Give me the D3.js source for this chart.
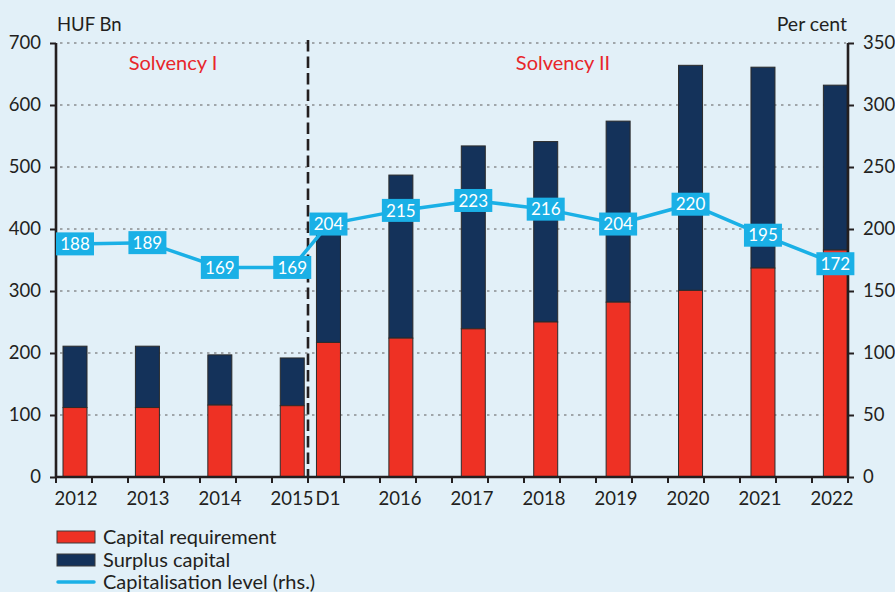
<!DOCTYPE html>
<html>
<head>
<meta charset="utf-8">
<script src="https://cdn.jsdelivr.net/npm/d3@7"></script>
<style>
  html, body { margin: 0; padding: 0; background: #e2f0f8; }
  svg { display: block; font-family: Lato, "Open Sans", sans-serif; }
</style>
</head>
<body>
<svg id="chart" width="895" height="592"></svg>
<script>
// ---- Data ----
const categories = ["2012", "2013", "2014", "2015", "2015 D1", "2016", "2017", "2018", "2019", "2020", "2021", "2022"];
const tickLabels = ["2012", "2013", "2014", "2015", "D1", "2016", "2017", "2018", "2019", "2020", "2021", "2022"];
const capitalRequirement = [112, 112, 116, 115, 217, 224, 239, 250, 282, 301, 337, 366];
const surplusCapital = [99, 99, 81, 77, 188, 263, 295, 291, 292, 363, 324, 266];
const capitalisationLevel = [188, 189, 169, 169, 204, 215, 223, 216, 204, 220, 195, 172];
const leftTicks = [0, 100, 200, 300, 400, 500, 600, 700];
const rightTicks = [0, 50, 100, 150, 200, 250, 300, 350];
const seriesNames = ["Capital requirement", "Surplus capital", "Capitalisation level (rhs.)"];
const regimeLabels = ["Solvency I", "Solvency II"];

// ---- Layout ----
const W = 895, H = 592;
const pL = 56, pR = 848, pT = 43, pB = 477;
const colors = { req: "#ee3124", surplus: "#14325a", line: "#1ab0e6", axis: "#231f20", grid: "#8a8d90", red: "#e8262b", text: "#231f20" };

// slots: a spacer before every category except the first and the "D1" one
const slots = [];
categories.forEach((c, i) => {
  if (i > 0 && c !== "2015 D1") slots.push("gap" + i);
  slots.push(c);
});

const svg = d3.select("#chart");
svg.append("rect").attr("width", W).attr("height", H).attr("fill", "#e2f0f8");

const x = d3.scaleBand().domain(slots).range([pL, pR]).paddingInner(0).paddingOuter(0);
const xBar = d3.scaleBand().domain(slots).range([pL + 7, pR]).paddingInner(0.32).paddingOuter(0).align(0);
const yL = d3.scaleLinear().domain([0, 700]).range([pB, pT]);
const yR = d3.scaleLinear().domain([0, 350]).range([pB, pT]);
const barW = 24;
const bx = c => xBar(c);
const bc = c => xBar(c) + barW / 2;

// gridlines
svg.append("g").selectAll("line").data(leftTicks.filter(d => d > 0)).join("line")
  .attr("x1", pL + 4).attr("x2", pR - 2)
  .attr("y1", d => yL(d)).attr("y2", d => yL(d))
  .attr("stroke", colors.grid).attr("stroke-width", 1.6).attr("stroke-dasharray", "2.5 4.5");

// bars
const data = categories.map((c, i) => ({ c, req: capitalRequirement[i], sur: surplusCapital[i] }));
const gb = svg.append("g");
gb.selectAll("rect.sur").data(data).join("rect").attr("class", "sur")
  .attr("x", d => bx(d.c)).attr("width", barW)
  .attr("y", d => yL(d.req + d.sur)).attr("height", d => yL(d.req) - yL(d.req + d.sur))
  .attr("fill", colors.surplus).attr("stroke", "#2b2b2b").attr("stroke-width", 1);
gb.selectAll("rect.req").data(data).join("rect").attr("class", "req")
  .attr("x", d => bx(d.c)).attr("width", barW)
  .attr("y", d => yL(d.req)).attr("height", d => yL(0) - yL(d.req))
  .attr("fill", colors.req).attr("stroke", "#2b2b2b").attr("stroke-width", 1);

// dashed separator between 2015 and 2015 D1
const sepX = x("2015 D1");
svg.append("line").attr("x1", sepX).attr("x2", sepX).attr("y1", pT - 3).attr("y2", pB)
  .attr("stroke", colors.axis).attr("stroke-width", 2.6).attr("stroke-dasharray", "11.5 5");

// regime labels
svg.append("text").attr("x", x("gap2") + 9).attr("y", 70)
  .attr("text-anchor", "middle").attr("fill", colors.red).attr("font-size", 20).text(regimeLabels[0]);
svg.append("text").attr("x", x("gap8") + 3).attr("y", 70)
  .attr("text-anchor", "middle").attr("fill", colors.red).attr("font-size", 20).text(regimeLabels[1]);

// axes
const axL = svg.append("g").attr("transform", `translate(${pL},0)`)
  .call(d3.axisLeft(yL).tickValues(leftTicks).tickSize(6).tickPadding(9).tickFormat(d3.format("d")));
const axR = svg.append("g").attr("transform", `translate(${pR},0)`)
  .call(d3.axisRight(yR).tickValues(rightTicks).tickSize(6).tickPadding(9).tickFormat(d3.format("d")));
const boundaries = slots.map(s => x(s)).concat([pR]);
const axB = svg.append("g").attr("transform", `translate(0,${pB})`);
axB.append("line").attr("x1", pL - 1).attr("x2", pR + 1).attr("y1", 0).attr("y2", 0)
  .attr("stroke", colors.axis).attr("stroke-width", 2.6);
axB.selectAll("line.tk").data(boundaries).join("line").attr("class", "tk")
  .attr("x1", d => d).attr("x2", d => d).attr("y1", 0).attr("y2", 6)
  .attr("stroke", colors.axis).attr("stroke-width", 2);
axB.selectAll("text").data(categories).join("text")
  .attr("x", (d) => x(d) + x.bandwidth() / 2 + 2).attr("y", 28)
  .attr("text-anchor", "middle").attr("fill", colors.text).attr("font-size", 18.5)
  .text((d, i) => tickLabels[i]);

[axL, axR].forEach(g => {
  g.select(".domain").attr("stroke", colors.axis).attr("stroke-width", 2.6);
  g.selectAll(".tick line").attr("stroke", colors.axis).attr("stroke-width", 2);
  g.selectAll(".tick text").attr("fill", colors.text).attr("font-size", 18.5).attr("font-family", "Lato, sans-serif");
});
axL.select(".domain").attr("d", `M0,${pT}V${pB}`);
axR.select(".domain").attr("d", `M0,${pT}V${pB}`);

// axis titles
svg.append("text").attr("x", 57).attr("y", 31).attr("fill", colors.text).attr("font-size", 18.5).text("HUF Bn");
svg.append("text").attr("x", 847).attr("y", 31).attr("text-anchor", "end").attr("fill", colors.text).attr("font-size", 19.5).text("Per cent");

// line
const lineData = categories.map((c, i) => ({ c, v: capitalisationLevel[i] }));
svg.append("path").datum(lineData)
  .attr("d", d3.line().x(d => bc(d.c)).y(d => yR(d.v)))
  .attr("fill", "none").attr("stroke", colors.line).attr("stroke-width", 3.5);
const lab = svg.append("g").selectAll("g").data(lineData).join("g")
  .attr("transform", d => `translate(${bc(d.c)},${yR(d.v)})`);
lab.append("rect").attr("x", -19).attr("y", -11.5).attr("width", 38).attr("height", 23).attr("fill", colors.line);
lab.append("text").attr("text-anchor", "middle").attr("dy", "0.36em").attr("fill", "#ffffff").attr("font-size", 17)
  .text(d => d.v);

// legend
const lg = svg.append("g");
const legendY = [537, 560, 582];
lg.append("rect").attr("x", 57).attr("y", legendY[0] - 6).attr("width", 38).attr("height", 12)
  .attr("fill", colors.req).attr("stroke", "#3a3a3a").attr("stroke-width", 1);
lg.append("rect").attr("x", 57).attr("y", legendY[1] - 6).attr("width", 38).attr("height", 12)
  .attr("fill", colors.surplus).attr("stroke", "#3a3a3a").attr("stroke-width", 1);
lg.append("line").attr("x1", 58).attr("x2", 94).attr("y1", legendY[2]).attr("y2", legendY[2])
  .attr("stroke", colors.line).attr("stroke-width", 3.5).attr("stroke-linecap", "round");
lg.selectAll("text").data(seriesNames).join("text")
  .attr("x", 103).attr("y", (d, i) => legendY[i]).attr("dy", "0.35em")
  .attr("fill", colors.text).attr("font-size", 20).text(d => d);
</script>
</body>
</html>
